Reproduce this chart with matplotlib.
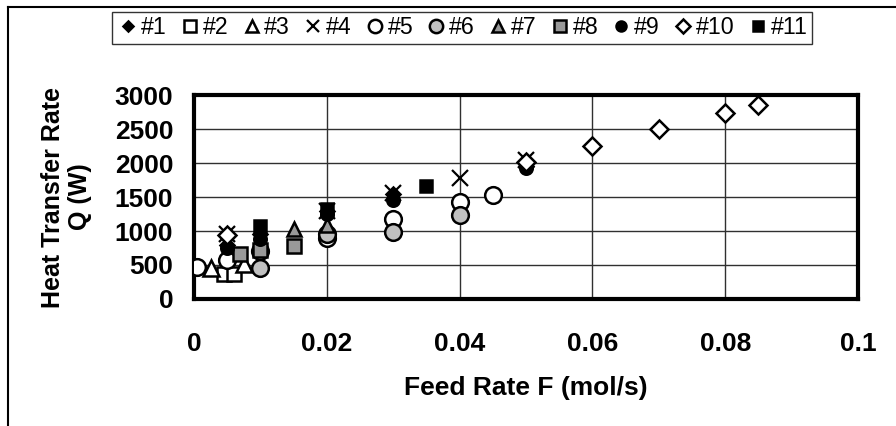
import matplotlib
matplotlib.use("Agg")
import matplotlib.pyplot as plt
from matplotlib.lines import Line2D

plt.rcParams['font.family'] = ['Liberation Sans', 'DejaVu Sans']

# feed rate F (mol/s) and heat transfer rate Q (W) for each run
f1 = [0.005, 0.01, 0.02, 0.03, 0.05]
q1 = [800, 950, 1300, 1540, 1950]
f2 = [0.0045, 0.006]
q2 = [370, 370]
f3 = [0.0025, 0.0075]
q3 = [450, 520]
f4 = [0.005, 0.02, 0.03, 0.04, 0.05]
q4 = [950, 1300, 1560, 1775, 2040]
f5 = [0.0005, 0.005, 0.01, 0.02, 0.03, 0.04, 0.045]
q5 = [470, 580, 700, 900, 1180, 1420, 1530]
f6 = [0.01, 0.02, 0.03, 0.04]
q6 = [460, 960, 990, 1230]
f7 = [0.015, 0.02]
q7 = [1030, 1090]
f8 = [0.007, 0.01, 0.015]
q8 = [660, 720, 780]
f9 = [0.005, 0.01, 0.02, 0.03, 0.05]
q9 = [750, 880, 1250, 1450, 1930]
f10 = [0.005, 0.05, 0.06, 0.07, 0.08, 0.085]
q10 = [940, 2020, 2255, 2495, 2730, 2850]
f11 = [0.01, 0.02, 0.035]
q11 = [1070, 1320, 1660]

names = ['#1', '#2', '#3', '#4', '#5', '#6', '#7', '#8', '#9', '#10', '#11']
xs = [f1, f2, f3, f4, f5, f6, f7, f8, f9, f10, f11]
ys = [q1, q2, q3, q4, q5, q6, q7, q8, q9, q10, q11]

# marker, face colour, size
styles = [
    ('D', 'black', 7),
    ('s', 'white', 10),
    ('^', 'white', 11),
    ('x', 'black', 11),
    ('o', 'white', 12),
    ('o', '#c0c0c0', 12),
    ('^', '#999999', 10),
    ('s', '#999999', 10),
    ('o', 'black', 9),
    ('D', 'white', 9),
    ('s', 'black', 9),
]

fig = plt.figure(figsize=(8.96, 4.26), dpi=100)
ax = fig.add_axes([194 / 896, 1 - 299 / 426, 664 / 896, 204 / 426])

for x, y, n, (m, fc, s) in zip(xs, ys, names, styles):
    if m == 'x':
        ax.plot(x, y, linestyle='none', marker=m, markersize=s, color='black',
                markeredgewidth=1.6, label=n, zorder=3)
    else:
        ax.plot(x, y, linestyle='none', marker=m, markersize=s, markerfacecolor=fc,
                markeredgecolor='black', markeredgewidth=1.8, label=n, zorder=3)

ax.set_xlim(0, 0.1)
ax.set_ylim(0, 3000)
ax.set_xticks([0, 0.02, 0.04, 0.06, 0.08, 0.1])
ax.set_xticklabels(['0', '0.02', '0.04', '0.06', '0.08', '0.1'])
ax.set_yticks(range(0, 3001, 500))
ax.grid(True, color='#303030', linewidth=1)
ax.set_axisbelow(True)
ax.tick_params(length=0, labelsize=19)
ax.tick_params(axis='x', pad=24)
ax.tick_params(axis='y', pad=15)
for lab in ax.get_xticklabels() + ax.get_yticklabels():
    lab.set_fontweight('bold')
for sp in ax.spines.values():
    sp.set_linewidth(3)

ax.set_xlabel('Feed Rate F (mol/s)', fontsize=19, fontweight='bold', labelpad=14)
ax.set_ylabel('Heat Transfer Rate\nQ (W)', fontsize=18, fontweight='bold', labelpad=16)

leg = fig.legend(loc='center', bbox_to_anchor=(462 / 896, 1 - 28 / 426), ncol=11,
                 frameon=True, fancybox=False, edgecolor='black',
                 handletextpad=0.05, columnspacing=0.5, handlelength=1.0,
                 borderpad=0.2, markerscale=0.8,
                 prop={'family': ['Liberation Sans Narrow', 'Liberation Sans'], 'size': 16.7})
leg.get_frame().set_linewidth(1)

fig.add_artist(Line2D([8 / 896, 1], [1 - 7 / 426, 1 - 7 / 426], color='black', linewidth=1.5))
fig.add_artist(Line2D([8 / 896, 8 / 896], [0, 1 - 7 / 426], color='black', linewidth=1.5))

fig.savefig('out.png', dpi=100)
